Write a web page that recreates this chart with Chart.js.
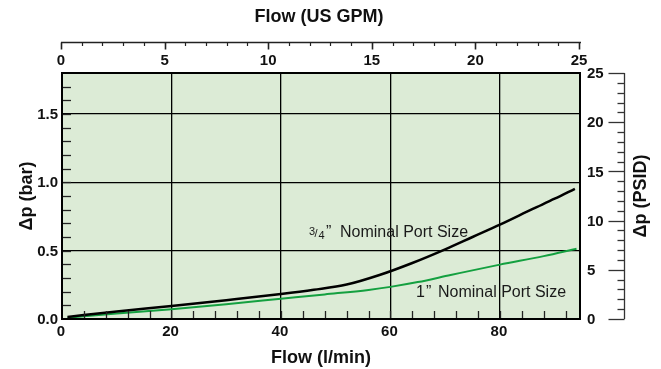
<!DOCTYPE html>
<html>
<head>
<meta charset="utf-8">
<script src="https://cdn.jsdelivr.net/npm/chart.js@4"></script>
<style>
html,body{margin:0;padding:0;background:#fff;}
canvas{display:block;}
</style>
</head>
<body>
<canvas id="c" width="661" height="369"></canvas>
<script>
// ---- data ----
const flowLpm34 = [1, 10, 20, 30, 40, 46, 52, 58, 64, 70, 75, 80, 86, 90, 93.7];
const dpBar34   = [0.015, 0.055, 0.095, 0.138, 0.183, 0.214, 0.252, 0.322, 0.41, 0.51, 0.60, 0.69, 0.805, 0.88, 0.953];
const flowLpm1  = [1, 10, 20, 30, 40, 48, 56, 60, 65, 71, 80, 88, 94];
const dpBar1    = [0.01, 0.04, 0.072, 0.108, 0.148, 0.18, 0.213, 0.235, 0.27, 0.322, 0.398, 0.46, 0.514];

const lpmTicks = [0, 20, 40, 60, 80];
const barTicks = [0.0, 0.5, 1.0, 1.5];
const gpmTicks = [0, 5, 10, 15, 20, 25];
const psiTicks = [0, 5, 10, 15, 20, 25];

const label34 = "Nominal Port Size";
const label1  = "Nominal Port Size";

const BOLD = "bold 15px 'Liberation Sans', Arial, sans-serif";
const TITLE = "bold 18px 'Liberation Sans', Arial, sans-serif";

const decor = {
  id: 'decor',
  beforeDraw(chart) {
    const {ctx, chartArea: a} = chart;
    ctx.save();
    ctx.fillStyle = '#dcebd6';
    ctx.fillRect(a.left, a.top, a.right - a.left, a.bottom - a.top);
    ctx.restore();
  },
  afterDraw(chart) {
    const {ctx, chartArea: a, scales} = chart;
    const x = scales.x, y = scales.y, x2 = scales.x2, y2 = scales.y2;
    ctx.save();
    // minor inward ticks bottom
    ctx.strokeStyle = '#222';
    ctx.lineWidth = 1.3;
    for (let v = 4; v < 94; v += 4) {
      const px = Math.round(x.getPixelForValue(v)) + 0.5;
      ctx.beginPath(); ctx.moveTo(px, a.bottom); ctx.lineTo(px, a.bottom - 8); ctx.stroke();
    }
    // minor inward ticks left
    for (let v = 0.1; v < 1.8; v += 0.1) {
      const py = Math.round(y.getPixelForValue(v)) + 0.5;
      ctx.beginPath(); ctx.moveTo(a.left, py); ctx.lineTo(a.left + 9, py); ctx.stroke();
    }
    // plot box
    ctx.strokeStyle = '#000';
    ctx.lineWidth = 2;
    ctx.strokeRect(a.left, a.top, a.right - a.left, a.bottom - a.top);

    // left labels
    ctx.fillStyle = '#111';
    ctx.font = BOLD;
    ctx.textAlign = 'right'; ctx.textBaseline = 'middle';
    barTicks.forEach(v => ctx.fillText(v.toFixed(1), a.left - 4, y.getPixelForValue(v) + 1));
    // bottom labels
    ctx.textAlign = 'center'; ctx.textBaseline = 'middle';
    lpmTicks.forEach(v => ctx.fillText(String(v), x.getPixelForValue(v) - 1, 332));
    // bottom title
    ctx.font = TITLE;
    ctx.fillText('Flow (l/min)', 321, 358);
    // left title
    ctx.save();
    ctx.translate(27, 196); ctx.rotate(-Math.PI / 2);
    ctx.fillText('\u0394p (bar)', 0, 0);
    ctx.restore();

    // top axis (GPM)
    const topY = 42.5;
    ctx.strokeStyle = '#222';
    ctx.lineWidth = 1.3;
    ctx.beginPath();
    ctx.moveTo(x2.getPixelForValue(0) - 1, topY); ctx.lineTo(x2.getPixelForValue(25) + 1, topY); ctx.stroke();
    for (let v = 0; v <= 25; v++) {
      const px = Math.round(x2.getPixelForValue(v)) - 0.5;
      const len = (v % 5 === 0) ? 7 : 3.5;
      ctx.lineWidth = (v % 5 === 0) ? 1.6 : 1.2;
      ctx.beginPath(); ctx.moveTo(px, topY); ctx.lineTo(px, topY + len); ctx.stroke();
    }
    ctx.font = BOLD;
    ctx.textAlign = 'center'; ctx.textBaseline = 'middle';
    gpmTicks.forEach(v => ctx.fillText(String(v), x2.getPixelForValue(v) - 1, 61));
    ctx.font = TITLE;
    ctx.fillText('Flow (US GPM)', 319, 17);

    // right axis (PSID)
    const rx = 624.5;
    ctx.strokeStyle = '#333';
    ctx.lineWidth = 1.3;
    ctx.beginPath();
    ctx.moveTo(rx, y2.getPixelForValue(25)); ctx.lineTo(rx, y2.getPixelForValue(0)); ctx.stroke();
    for (let v = 0; v <= 25; v++) {
      const py = Math.round(y2.getPixelForValue(v)) + 0.5;
      const len = (v % 5 === 0) ? 16 : 7;
      ctx.beginPath(); ctx.moveTo(rx, py); ctx.lineTo(rx - len, py); ctx.stroke();
    }
    ctx.font = BOLD;
    ctx.textAlign = 'left'; ctx.textBaseline = 'middle';
    psiTicks.forEach(v => ctx.fillText(String(v), 587, y2.getPixelForValue(v) + 1));
    ctx.font = TITLE;
    ctx.textAlign = 'center';
    ctx.save();
    ctx.translate(641, 196); ctx.rotate(-Math.PI / 2);
    ctx.fillText('\u0394p (PSID)', 0, 0);
    ctx.restore();

    // curve labels
    ctx.fillStyle = '#1a1a1a';
    ctx.textBaseline = 'alphabetic';
    ctx.textAlign = 'left';
    ctx.font = "11px 'Liberation Sans', Arial, sans-serif";
    ctx.fillText('3', 309, 235);
    ctx.fillText('/', 314.5, 237);
    ctx.fillText('4', 318.5, 239);
    ctx.font = "16px 'Liberation Sans', Arial, sans-serif";
    ctx.fillText('\u201D', 326, 237);
    ctx.fillText(label34, 340, 237);
    ctx.fillText('1', 416, 297);
    ctx.fillText('\u201D', 426, 297);
    ctx.fillText(label1, 438, 297);
    ctx.restore();
  }
};

new Chart(document.getElementById('c'), {
  type: 'line',
  data: {
    datasets: [
      {
        label: '3/4" Nominal Port Size',
        data: flowLpm34.map((f, i) => ({x: f, y: dpBar34[i]})),
        borderColor: '#000', borderWidth: 2.5, pointRadius: 0,
        cubicInterpolationMode: 'monotone', xAxisID: 'x', yAxisID: 'y'
      },
      {
        label: '1" Nominal Port Size',
        data: flowLpm1.map((f, i) => ({x: f, y: dpBar1[i]})),
        borderColor: '#14a040', borderWidth: 2, pointRadius: 0,
        cubicInterpolationMode: 'monotone', xAxisID: 'x', yAxisID: 'y'
      }
    ]
  },
  options: {
    responsive: false,
    animation: false,
    devicePixelRatio: 1,
    layout: {padding: {left: 62, top: 73, right: 81, bottom: 50}},
    plugins: {legend: {display: false}, tooltip: {enabled: false}, title: {display: false}},
    scales: {
      x: {
        type: 'linear', position: 'bottom', min: 0, max: 94.635,
        afterBuildTicks: s => { s.ticks = lpmTicks.map(v => ({value: v})); },
        ticks: {display: false},
        grid: {color: '#000', lineWidth: 1.3, drawTicks: false},
        border: {display: true, color: '#000', width: 2}
      },
      y: {
        type: 'linear', position: 'left', min: 0, max: 1.8,
        afterBuildTicks: s => { s.ticks = barTicks.map(v => ({value: v})); },
        ticks: {display: false},
        grid: {color: '#000', lineWidth: 1.3, drawTicks: false},
        border: {display: true, color: '#000', width: 2}
      },
      x2: {type: 'linear', position: 'top', min: 0, max: 25, display: false},
      y2: {type: 'linear', position: 'right', min: 0, max: 25, display: false}
    }
  },
  plugins: [decor]
});
</script>
</body>
</html>
